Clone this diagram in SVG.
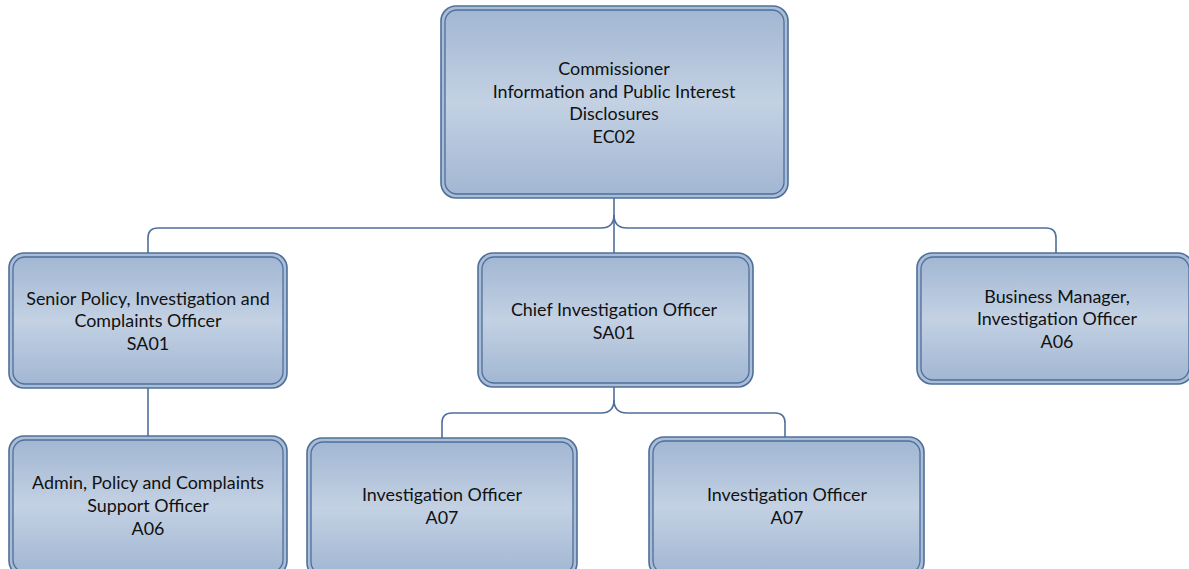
<svg xmlns="http://www.w3.org/2000/svg" width="1189" height="569" viewBox="0 0 1189 569">
<defs>
<linearGradient id="g" x1="0" y1="0" x2="0" y2="1">
<stop offset="0" stop-color="#a2b7d3"/>
<stop offset="0.5" stop-color="#c3d1e3"/>
<stop offset="1" stop-color="#a2b7d3"/>
</linearGradient>
<style>
.o{fill:#a9bdd7;stroke:#4f6f9b;stroke-width:1.6}
.i{fill:url(#g);stroke:#4f6f9b;stroke-width:1.3}
.t{font-family:Lato,"Liberation Sans",sans-serif;font-size:17.9px;fill:#111;text-anchor:middle}
.c{fill:none;stroke:#4f6f9b;stroke-width:1.6}
</style>
</defs>
<rect width="1189" height="569" fill="#fff"/>
<g id="connectors">
<path class="c" d="M614,198 V253"/>
<path class="c" d="M614,215 Q614,228 601,228 H158 Q148,228 148,238 V253"/>
<path class="c" d="M614,215 Q614,228 627,228 H1046 Q1056,228 1056,238 V253"/>
<path class="c" d="M148,388 V436"/>
<path class="c" d="M614,387 V400 Q614,413 601,413 H452 Q442,413 442,423 V438"/>
<path class="c" d="M614,400 Q614,413 627,413 H775 Q785,413 785,423 V437"/>
</g>
<g id="n-commissioner">
<rect class="o" x="441" y="6" width="347" height="192" rx="15"/>
<rect class="i" x="445" y="10" width="339" height="184" rx="12"/>
<text class="t" x="614" y="75">Commissioner</text>
<text class="t" x="614" y="98">Information and Public Interest</text>
<text class="t" x="614" y="120">Disclosures</text>
<text class="t" x="614" y="143">EC02</text>
</g>
<g id="n-senior">
<rect class="o" x="9" y="253" width="278" height="135" rx="15"/>
<rect class="i" x="13" y="257" width="270" height="127" rx="12"/>
<text class="t" x="148" y="305">Senior Policy, Investigation and</text>
<text class="t" x="148" y="327">Complaints Officer</text>
<text class="t" x="148" y="350">SA01</text>
</g>
<g id="n-chief">
<rect class="o" x="478" y="253" width="275" height="134" rx="15"/>
<rect class="i" x="482" y="257" width="267" height="126" rx="12"/>
<text class="t" x="614" y="316">Chief Investigation Officer</text>
<text class="t" x="614" y="339">SA01</text>
</g>
<g id="n-business">
<rect class="o" x="917" y="253" width="276" height="131" rx="15"/>
<rect class="i" x="921" y="257" width="268" height="123" rx="12"/>
<text class="t" x="1057" y="303">Business Manager,</text>
<text class="t" x="1057" y="325">Investigation Officer</text>
<text class="t" x="1057" y="348">A06</text>
</g>
<g id="n-admin">
<rect class="o" x="9" y="436" width="278" height="140" rx="15"/>
<rect class="i" x="13" y="440" width="270" height="132" rx="12"/>
<text class="t" x="148" y="489">Admin, Policy and Complaints</text>
<text class="t" x="148" y="512">Support Officer</text>
<text class="t" x="148" y="535">A06</text>
</g>
<g id="n-inv1">
<rect class="o" x="307" y="438" width="270" height="140" rx="15"/>
<rect class="i" x="311" y="442" width="262" height="132" rx="12"/>
<text class="t" x="442" y="501">Investigation Officer</text>
<text class="t" x="442" y="524">A07</text>
</g>
<g id="n-inv2">
<rect class="o" x="649" y="437" width="275" height="140" rx="15"/>
<rect class="i" x="653" y="441" width="267" height="132" rx="12"/>
<text class="t" x="787" y="501">Investigation Officer</text>
<text class="t" x="787" y="524">A07</text>
</g>
</svg>
